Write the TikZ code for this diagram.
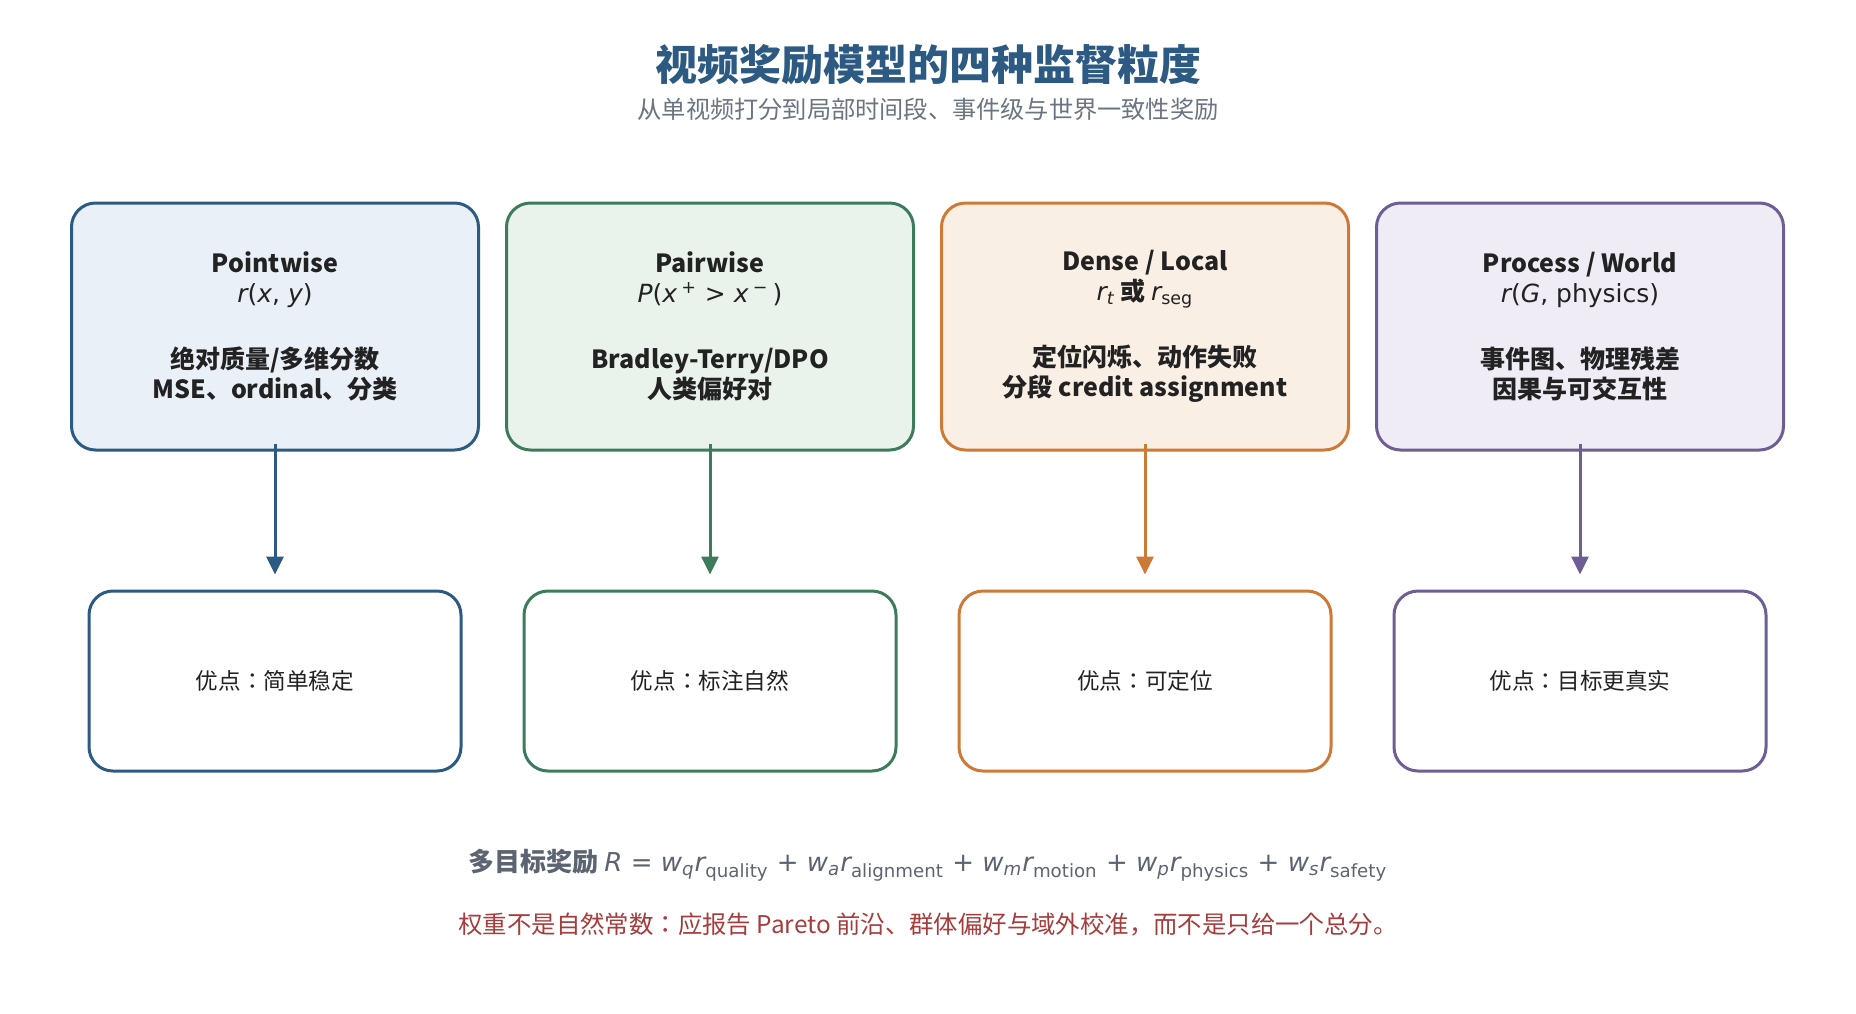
\documentclass[tikz,border=0pt]{standalone}
\usepackage{fontspec}
\setmainfont{Noto Sans CJK JP}
\newfontfamily\mathfont{DejaVu Sans}
\usepackage{tikz}
\usetikzlibrary{arrows.meta,positioning}
\usepackage{xcolor}
\definecolor{ink}{HTML}{222222}
\definecolor{headblue}{HTML}{2D5A82}
\definecolor{subgray}{HTML}{6B7580}
\definecolor{sumgray}{HTML}{5B6470}
\definecolor{warnred}{HTML}{A63D3D}
\definecolor{blueline}{HTML}{2D5A82}
\definecolor{bluefill}{HTML}{EAF0F7}
\definecolor{greenline}{HTML}{3D7B5A}
\definecolor{greenfill}{HTML}{E9F3EC}
\definecolor{orangeline}{HTML}{CC7A35}
\definecolor{orangefill}{HTML}{FAEFE5}
\definecolor{purpleline}{HTML}{6F5E94}
\definecolor{purplefill}{HTML}{EFECF6}
\newcommand\mvar[1]{{\itshape #1}}
\newcommand\subtx[1]{\textsubscript{#1}}
\tikzset{
  every node/.style={text=ink},
  box/.style={line width=1.5pt,rounded corners=12pt,align=center,inner sep=4pt},
  headbox/.style={box,minimum width=203.5pt,minimum height=123.5pt,font=\fontsize{12.5}{15}\selectfont},
  pointbox/.style={headbox,draw=blueline,fill=bluefill},
  pairbox/.style={headbox,draw=greenline,fill=greenfill},
  densebox/.style={headbox,draw=orangeline,fill=orangefill},
  worldbox/.style={headbox,draw=purpleline,fill=purplefill},
  prosbox/.style={box,fill=white,minimum width=186pt,minimum height=90pt,font=\fontsize{11.3}{14}\selectfont},
  arrow/.style={-{Triangle[width=8.5pt,length=9pt]},line width=1.5pt,shorten >=7.5pt},
  title/.style={font=\fontsize{21}{25}\selectfont\bfseries,text=headblue},
  subtitle/.style={font=\fontsize{12.1}{15}\selectfont,text=subgray},
  sumline/.style={font=\fontsize{13}{16}\selectfont,text=sumgray},
  warnline/.style={font=\fontsize{12.2}{15}\selectfont,text=warnred},
}
\begin{document}
\begin{tikzpicture}[x=0.5pt,y=-0.5pt,node distance=12.5pt]
\useasboundingbox (0,0) rectangle (1856,1013);
\node[title] (head) at (928,65) {视频奖励模型的四种监督粒度};
\node[subtitle] (subhead) at (928,109) {从单视频打分到局部时间段、事件级与世界一致性奖励};
% four kinds of supervision
\node[pointbox] (point) at (275,326.5) {{\bfseries Pointwise}\\
{\mathfont\mvar{r}(\mvar{x}, \mvar{y})}\\[18pt]
{\bfseries 绝对质量/多维分数}\\
{\bfseries MSE、ordinal、分类}};
\node[pairbox,right=of point] (pair) {{\bfseries Pairwise}\\
{\mathfont\mvar{P}(\mvar{x}\,\textsuperscript{+} > \mvar{x}\,\textsuperscript{−}\,)}\\[18pt]
{\bfseries Bradley-Terry/DPO}\\
{\bfseries 人类偏好对}};
\node[densebox,right=of pair] (dense) {{\bfseries Dense / Local}\\
{\mathfont\mvar{r}\subtx{\mvar{t}}} {\bfseries 或} {\mathfont\mvar{r}\subtx{seg}}\\[18pt]
{\bfseries 定位闪烁、动作失败}\\
{\bfseries 分段 credit assignment}};
\node[worldbox,right=of dense] (world) {{\bfseries Process / World}\\
{\mathfont\mvar{r}(\mvar{G}, physics)}\\[18pt]
{\bfseries 事件图、物理残差}\\
{\bfseries 因果与可交互性}};
% what each one is good at
\node[prosbox,draw=blueline,below=69pt of point] (pointpro) {优点：简单稳定};
\node[prosbox,draw=greenline,below=69pt of pair] (pairpro) {优点：标注自然};
\node[prosbox,draw=orangeline,below=69pt of dense] (densepro) {优点：可定位};
\node[prosbox,draw=purpleline,below=69pt of world] (worldpro) {优点：目标更真实};
\draw[arrow,blueline] ([yshift=4pt]point.south) -- (pointpro.north);
\draw[arrow,greenline] ([yshift=4pt]pair.south) -- (pairpro.north);
\draw[arrow,orangeline] ([yshift=4pt]dense.south) -- (densepro.north);
\draw[arrow,purpleline] ([yshift=4pt]world.south) -- (worldpro.north);
% weighted sum and caveat
\node[sumline] (sum) at (928,865) {{\bfseries 多目标奖励} {\mathfont\mvar{R} = \mvar{w}\subtx{\mvar{q}}\mvar{r}\subtx{quality} + \mvar{w}\subtx{\mvar{a}}\mvar{r}\subtx{alignment} + \mvar{w}\subtx{\mvar{m}}\mvar{r}\subtx{motion} + \mvar{w}\subtx{\mvar{p}}\mvar{r}\subtx{physics} + \mvar{w}\subtx{\mvar{s}}\mvar{r}\subtx{safety}}};
\node[warnline] (warn) at (928,924) {权重不是自然常数：应报告 Pareto 前沿、群体偏好与域外校准，而不是只给一个总分。};
\end{tikzpicture}
\end{document}
